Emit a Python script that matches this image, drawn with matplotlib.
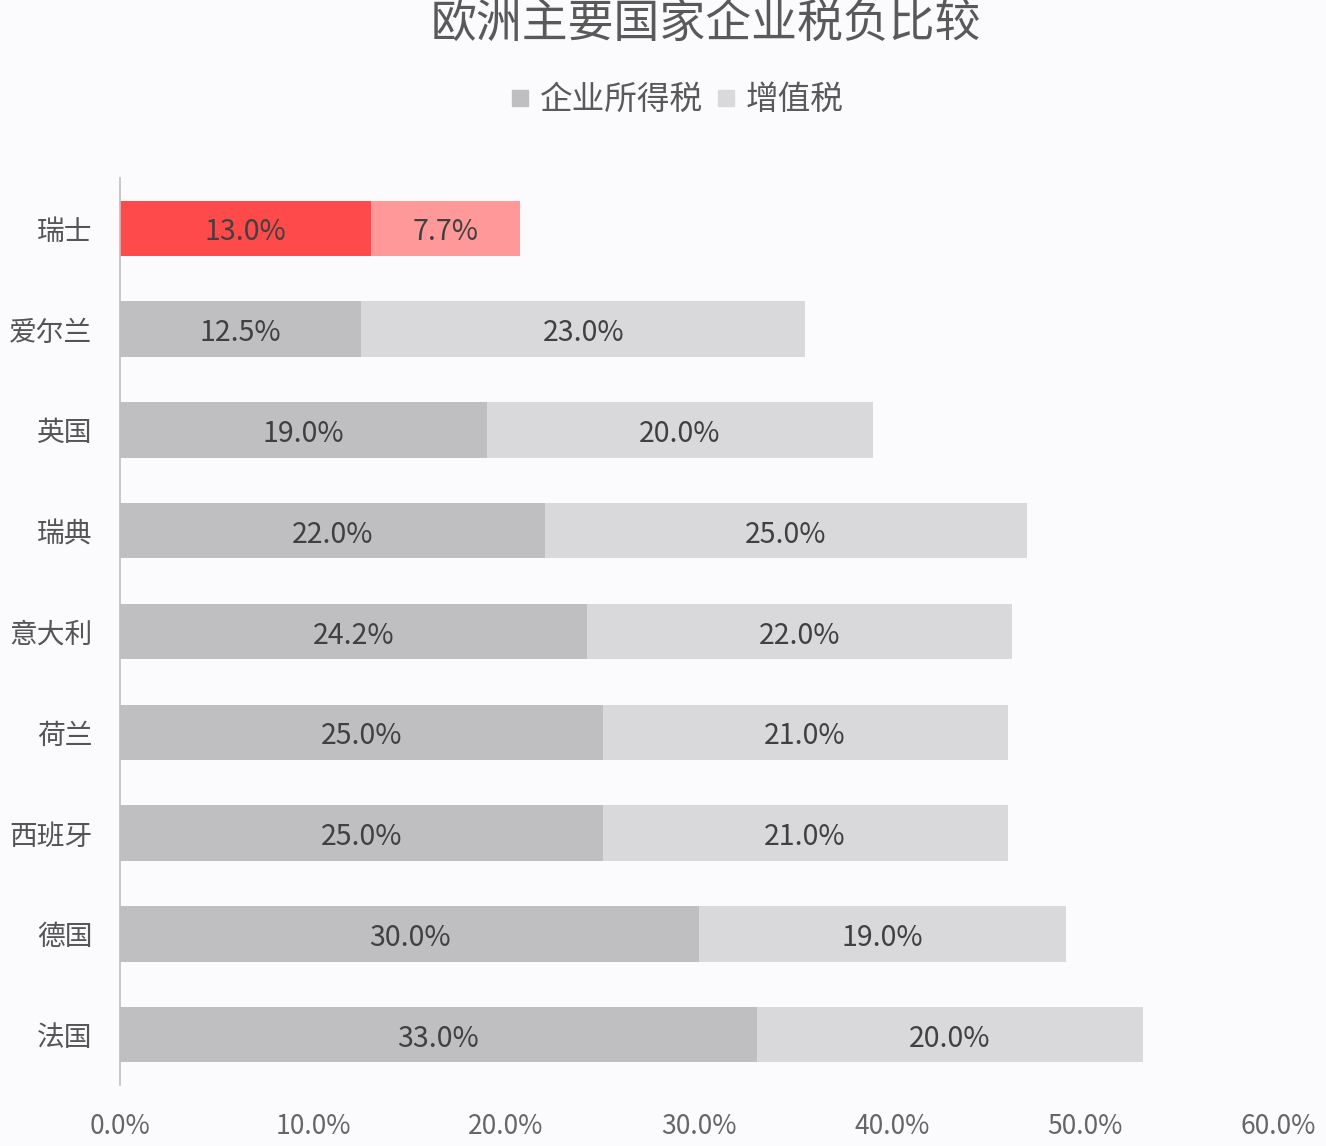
import matplotlib
matplotlib.use("Agg")
import matplotlib.pyplot as plt
from matplotlib.lines import Line2D

plt.rcParams['font.family'] = ['Noto Sans CJK SC', 'DejaVu Sans']

countries = ["瑞士", "爱尔兰", "英国", "瑞典", "意大利", "荷兰", "西班牙", "德国", "法国"]
corp_tax = [13.0, 12.5, 19.0, 22.0, 24.2, 25.0, 25.0, 30.0, 33.0]
vat = [7.7, 23.0, 20.0, 25.0, 22.0, 21.0, 21.0, 19.0, 20.0]
xticks = [0, 10, 20, 30, 40, 50, 60]
series_names = ["企业所得税", "增值税"]
title = "欧洲主要国家企业税负比较"

bg = "#FBFAFD"
dark = "#BFBEC0"
light = "#D9D8DA"
red = "#FF4A4C"
lightred = "#FF9898"
txt = "#404040"

fig = plt.figure(figsize=(13.26, 11.46), dpi=100, facecolor=bg)
ax = fig.add_axes([120/1326, 1-1085/1146, (1278-120)/1326, 907/1146], facecolor=bg)

y = list(range(len(countries)))
c1 = [red if i == 0 else dark for i in y]
c2 = [lightred if i == 0 else light for i in y]
h = 0.55
ax.barh(y, corp_tax, height=h, color=c1, linewidth=0)
ax.barh(y, vat, left=corp_tax, height=h, color=c2, linewidth=0)

for i in y:
    ax.text(corp_tax[i]/2, i + 0.04, f"{corp_tax[i]:.1f}%", ha="center", va="center",
            fontsize=20.5, color=txt)
    ax.text(corp_tax[i] + vat[i]/2, i + 0.04, f"{vat[i]:.1f}%", ha="center", va="center",
            fontsize=20.5, color=txt)

ax.set_xlim(0, 60)
ax.set_ylim(len(countries)-0.5, -0.5)
ax.set_yticks(y)
ax.set_yticklabels(countries, fontsize=20, color="#555555")
ax.set_xticks(xticks)
ax.set_xticklabels([f"{v:.1f}%" for v in xticks], fontsize=19, color="#666666")
ax.tick_params(axis="both", length=0)
ax.tick_params(axis="x", pad=20)
ax.tick_params(axis="y", pad=20)
for s in ["top", "right", "bottom"]:
    ax.spines[s].set_visible(False)
ax.spines["left"].set_color("#BFBFBF")
ax.spines["left"].set_linewidth(1.2)

fig.text(0.532, 1-24/1146, title, ha="center", va="center", fontsize=33,
         color="#595959")

handles = [Line2D([], [], marker="s", linestyle="none", markersize=12, color=dark),
           Line2D([], [], marker="s", linestyle="none", markersize=12, color=light)]
fig.legend(handles, series_names, loc="center", bbox_to_anchor=(675/1326, 1-100/1146),
           ncol=2, frameon=False, handletextpad=0.2, columnspacing=0.3,
           labelcolor="#595959", handlelength=0.8, prop={"size": 23.5})

fig.savefig("out.png", dpi=100, facecolor=bg)
